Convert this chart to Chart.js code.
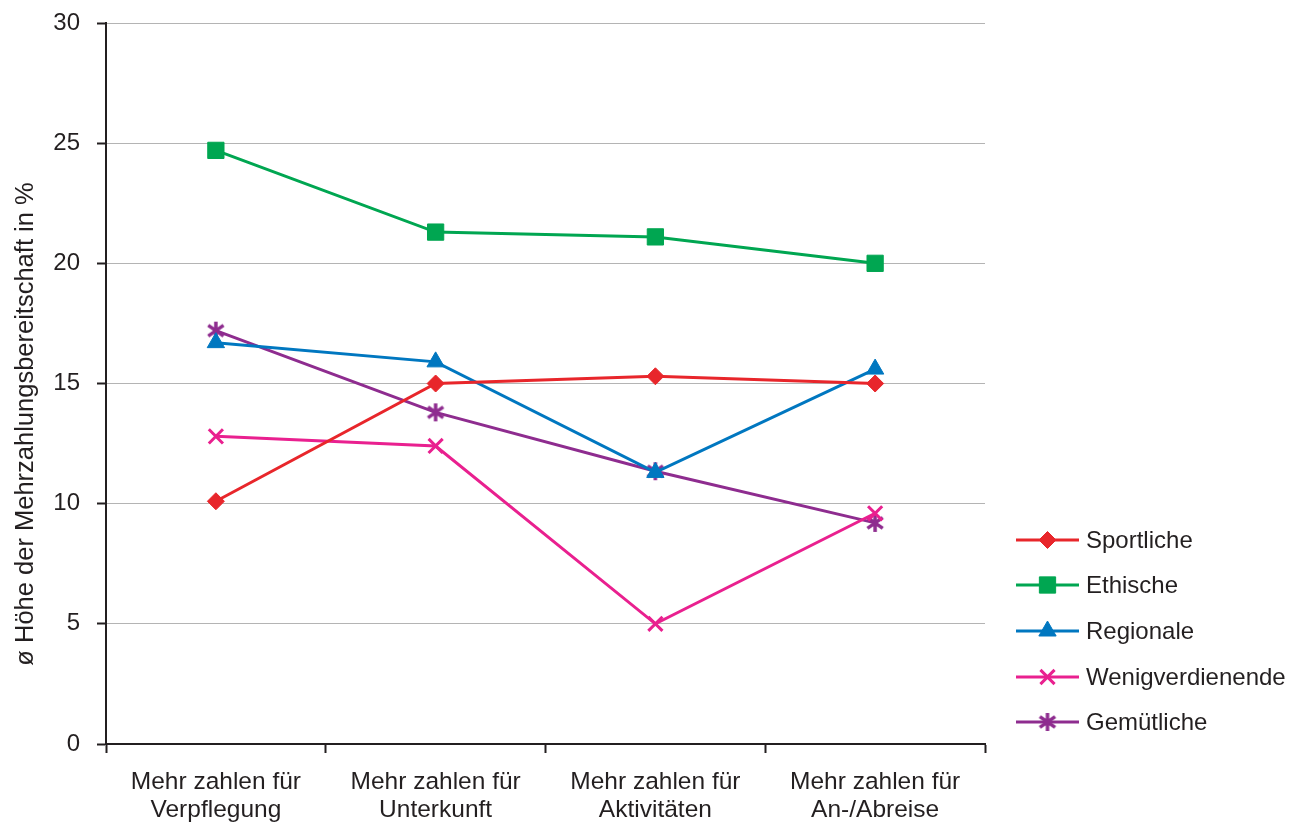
<!DOCTYPE html>
<html lang="de">
<head>
<meta charset="utf-8">
<title>Mehrzahlungsbereitschaft</title>
<script src="https://cdn.jsdelivr.net/npm/chart.js@4.4.0/dist/chart.umd.min.js"></script>
<style>
  html, body { margin: 0; padding: 0; background: #fff; }
  canvas { display: block; }
</style>
</head>
<body>
<canvas id="chart" width="1295" height="826"></canvas>
<script>
// Kategorien (zweizeilige Achsenbeschriftung)
const categories = [
  ['Mehr zahlen für', 'Verpflegung'],
  ['Mehr zahlen für', 'Unterkunft'],
  ['Mehr zahlen für', 'Aktivitäten'],
  ['Mehr zahlen für', 'An-/Abreise']
];

// Durchschnittliche Mehrzahlungsbereitschaft je Typ (in %)
const sportliche       = [10.1, 15.0, 15.3, 15.0];
const ethische         = [24.7, 21.3, 21.1, 20.0];
const regionale        = [16.7, 15.9, 11.3, 15.6];
const wenigverdienende = [12.8, 12.4, 5.0, 9.6];
const gemuetliche      = [17.2, 13.8, 11.35, 9.2];

const yTicks = { min: 0, max: 30, step: 5 };
const yTitle = 'ø Höhe der Mehrzahlungsbereitschaft in %';

const FONT = "'Liberation Sans', Arial, Helvetica, sans-serif";
const TEXT = '#231f20';

// Sternmarker: Kreuz mit senkrechtem Strich (sechs Arme)
function asterisk(color, size) {
  const c = document.createElement('canvas');
  c.width = size;
  c.height = size;
  const g = c.getContext('2d');
  const m = size / 2, r = size / 2 - 2;
  const d = r * 0.85;
  g.strokeStyle = color;
  g.lineWidth = 3.5;
  g.lineCap = 'butt';
  g.beginPath();
  g.moveTo(m, m - r); g.lineTo(m, m + r);
  g.moveTo(m - d, m - d * 0.7); g.lineTo(m + d, m + d * 0.7);
  g.moveTo(m - d, m + d * 0.7); g.lineTo(m + d, m - d * 0.7);
  g.stroke();
  return c;
}

function series(label, data, color, pointStyle, radius) {
  const stroked = pointStyle === 'crossRot';
  return {
    label,
    data,
    borderColor: color,
    backgroundColor: color,
    borderWidth: 3,
    pointStyle,
    pointRadius: radius,
    pointHoverRadius: radius,
    pointBorderWidth: stroked ? 3 : 1,
    pointBorderColor: color,
    pointBackgroundColor: color,
    tension: 0
  };
}

// Legende rechts: Linienstück mit Marker, daneben der Name
const sideLegend = {
  id: 'sideLegend',
  afterDraw(chart) {
    const ctx = chart.ctx;
    const rowY = [540, 585, 631, 677, 722];
    const x0 = 1016, x1 = 1079;
    ctx.save();
    chart.data.datasets.forEach((ds, i) => {
      const y = rowY[i];
      ctx.strokeStyle = ds.borderColor;
      ctx.fillStyle = ds.borderColor;
      ctx.lineWidth = 3;
      ctx.beginPath();
      ctx.moveTo(x0, y);
      ctx.lineTo(x1, y);
      ctx.stroke();
      ctx.lineWidth = ds.pointBorderWidth;
      Chart.helpers.drawPoint(ctx, {
        pointStyle: ds.pointStyle,
        radius: ds.pointRadius,
        rotation: 0,
        borderWidth: ds.pointBorderWidth
      }, (x0 + x1) / 2, y);
      ctx.fillStyle = TEXT;
      ctx.font = '24px ' + FONT;
      ctx.textBaseline = 'middle';
      ctx.textAlign = 'left';
      ctx.fillText(ds.label, 1086, y + 1);
    });
    ctx.restore();
  }
};

// Achsentitel links, senkrecht
const sideTitle = {
  id: 'sideTitle',
  afterDraw(chart) {
    const ctx = chart.ctx;
    ctx.save();
    ctx.translate(33, 424);
    ctx.rotate(-Math.PI / 2);
    ctx.fillStyle = TEXT;
    ctx.font = '25.5px ' + FONT;
    ctx.textAlign = 'center';
    ctx.textBaseline = 'alphabetic';
    ctx.fillText(yTitle, 0, 0);
    ctx.restore();
  }
};

new Chart(document.getElementById('chart'), {
  type: 'line',
  data: {
    labels: categories,
    datasets: [
      series('Sportliche', sportliche, '#e8262b', 'rectRot', 8.5),
      series('Ethische', ethische, '#00a651', 'rect', 11.5),
      series('Regionale', regionale, '#0077c0', 'triangle', 10),
      series('Wenigverdienende', wenigverdienende, '#e9208f', 'crossRot', 10),
      series('Gemütliche', gemuetliche, '#8e2c8f', asterisk('#8e2c8f', 22), 9)
    ]
  },
  options: {
    responsive: false,
    devicePixelRatio: 1,
    animation: false,
    layout: { padding: { left: 0, right: 310, top: 23, bottom: 0 } },
    plugins: {
      legend: { display: false },
      tooltip: { enabled: false }
    },
    scales: {
      x: {
        type: 'category',
        offset: true,
        afterFit(scale) {
          scale.height = 82;
          scale.paddingLeft = 0;
          scale.paddingRight = 0;
        },
        border: { display: true, color: '#231f20', width: 2 },
        grid: {
          offset: true,
          drawOnChartArea: false,
          drawTicks: true,
          tickLength: 9,
          tickColor: '#231f20',
          tickWidth: 2
        },
        ticks: {
          color: TEXT,
          font: { family: FONT, size: 24.5, lineHeight: 1.15 },
          padding: 15,
          maxRotation: 0,
          autoSkip: false
        }
      },
      y: {
        min: yTicks.min,
        max: yTicks.max,
        afterFit(scale) {
          scale.width = 106;
          scale.paddingTop = 0;
          scale.paddingBottom = 0;
        },
        border: { display: true, color: '#231f20', width: 2 },
        grid: {
          color: '#b4b4b4',
          lineWidth: 1,
          drawTicks: true,
          tickLength: 9,
          tickColor: '#231f20',
          tickWidth: 2
        },
        ticks: {
          stepSize: yTicks.step,
          color: TEXT,
          font: { family: FONT, size: 24 },
          padding: 17
        }
      }
    }
  },
  plugins: [sideLegend, sideTitle]
});
</script>
</body>
</html>
